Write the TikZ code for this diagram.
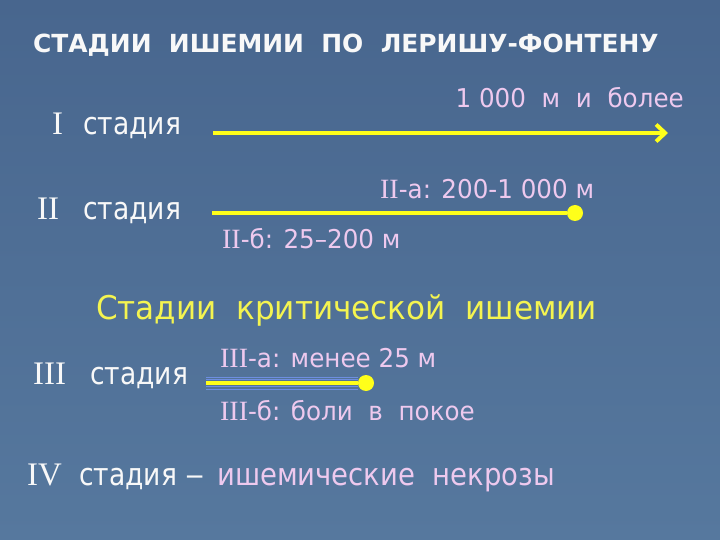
\documentclass[tikz,border=0pt]{standalone}
\usepackage{fontspec}
\setmainfont{DejaVu Sans}[FakeStretch=0.86]
\newfontfamily\lblfont{DejaVu Sans}[FakeStretch=0.95]
\newfontfamily\ivfont{DejaVu Sans}[FakeStretch=0.89]
\newfontfamily\romfont{Liberation Serif}
\newfontfamily\ttlfont{DejaVu Sans}[FakeStretch=1.0]
\usetikzlibrary{arrows.meta}
\definecolor{bgtop}{HTML}{48668E}
\definecolor{bgbot}{HTML}{56789E}
\definecolor{pinklbl}{HTML}{EEC9EE}
\definecolor{ylw}{HTML}{F4F450}
\definecolor{yline}{HTML}{FFFF1A}
\definecolor{bluel}{HTML}{6E8EE0}
\definecolor{wht}{HTML}{F8F8F8}
\begin{document}
\begin{tikzpicture}[x=1bp,y=-1bp,
  txt/.style={inner sep=0pt, anchor=base west, text=wht},
  ttl/.style={txt, font=\ttlfont\bfseries\fontsize{25}{30}\selectfont},
  rom/.style={txt, font=\romfont\fontsize{33}{38}\selectfont},
  stg/.style={txt, font=\fontsize{31}{36}\selectfont},
  lbl/.style={txt, text=pinklbl, font=\lblfont\fontsize{26}{30}\selectfont},
  crit/.style={txt, text=ylw, font=\lblfont\fontsize{32.8}{38}\selectfont},
  yline/.style={draw=yline, line width=4bp},
  ydot/.style={circle, fill=yline, inner sep=0pt, minimum size=16bp},
  bthin/.style={draw=bluel, line width=0.9bp}]
\useasboundingbox (0,0) rectangle (720,540);
\shade[top color=bgtop, bottom color=bgbot] (0,0) rectangle (720,540);

% title
\node[ttl] (title) at (33,53) {СТАДИИ\ \ ИШЕМИИ\ \ ПО\ \ ЛЕРИШУ-ФОНТЕНУ};

% stage I
\node[rom] (n1) at (52,135) {I};
\node[stg] (s1) at (83,135) {стадия};
\node[lbl, anchor=base east] (l1) at (684,108) {1 000\ \ м\ \ и\ \ более};
\coordinate (a1) at (213,133);
\coordinate (b1) at (668,133);
\draw[yline, -{Straight Barb[length=9bp,width=17bp]}] (a1) -- (b1);

% stage II
\node[rom] (n2) at (37,220) {II};
\node[stg] (s2) at (83,220) {стадия};
\node[lbl] (l2a) at (380,199) {{\romfont\fontsize{28}{30}\selectfont II}-а: 200-1 000 м};
\node[lbl] (l2b) at (222,249) {{\romfont\fontsize{28}{30}\selectfont II}-б: 25–200 м};
\coordinate (a2) at (212,213);
\node[ydot] (d2) at (575,213) {};
\draw[yline] (a2) -- (d2);

% critical
\node[crit] (crit) at (96,319) {Стадии\ \ критической\ \ ишемии};

% stage III
\node[rom] (n3) at (33,384) {III};
\node[stg] (s3) at (90,384) {стадия};
\node[lbl] (l3a) at (220,367) {{\romfont\fontsize{28}{30}\selectfont III}-а: менее 25 м};
\node[lbl] (l3b) at (220,420) {{\romfont\fontsize{28}{30}\selectfont III}-б: боли\ \ в\ \ покое};
\coordinate (a3) at (206,383);
\coordinate (u1a) at (206,377.5);
\coordinate (u1b) at (358,377.5);
\coordinate (u2a) at (206,379.5);
\coordinate (u2b) at (358,379.5);
\coordinate (w1a) at (206,386.5);
\coordinate (w1b) at (358,386.5);
\coordinate (w2a) at (206,389);
\coordinate (w2b) at (358,389);
\draw[bthin] (u1a) -- (u1b);
\draw[bthin] (u2a) -- (u2b);
\draw[bthin] (w1a) -- (w1b);
\draw[bthin] (w2a) -- (w2b);
\node[ydot] (d3) at (366,383) {};
\draw[yline] (a3) -- (d3);

% stage IV
\node[rom] (n4) at (27,485) {IV};
\node[stg] (s4) at (79,485) {стадия\ \scalebox{1.45}[1]{–}};
\node[stg, text=pinklbl, font=\ivfont\fontsize{31}{36}\selectfont] (s4b) at (217,485) {ишемические\ \ некрозы};
\end{tikzpicture}
\end{document}
